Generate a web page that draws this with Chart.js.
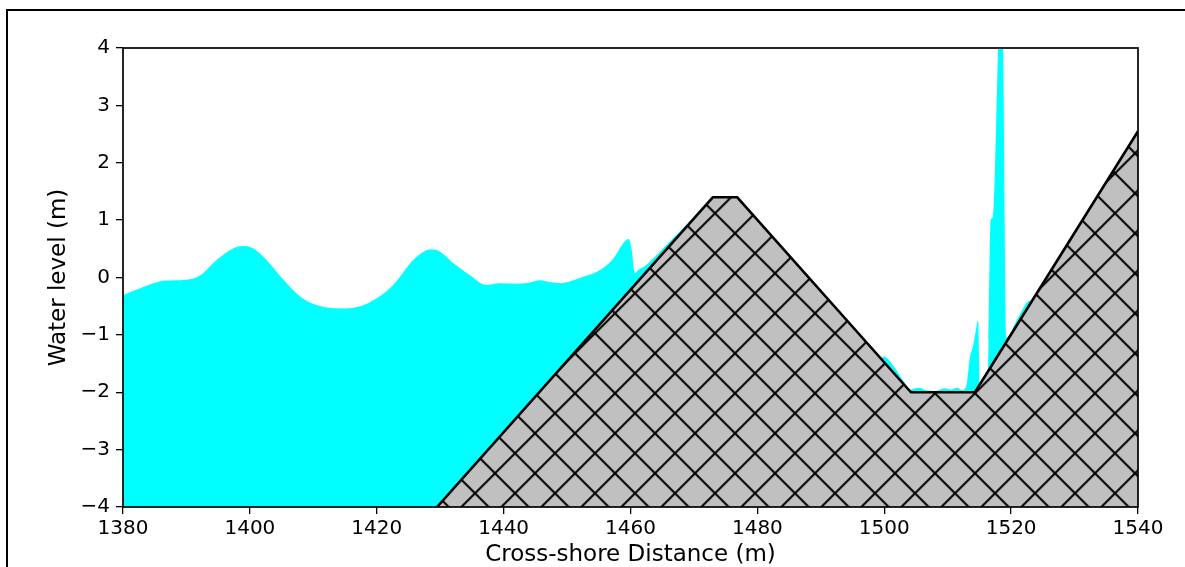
<!DOCTYPE html>
<html>
<head>
<meta charset="utf-8">
<script src="https://cdn.jsdelivr.net/npm/chart.js@4"></script>
<style>
  html, body { margin: 0; padding: 0; background: #fff; overflow: hidden; }
  canvas { display: block; }
</style>
</head>
<body>
<canvas id="waterProfile" width="1185" height="567"></canvas>
<script>
// water surface (m)
const distance = [
  1380, 1382, 1384, 1385.8, 1388, 1390, 1392.1, 1394.8, 1397.4, 1399, 1400.5,
  1402.6, 1405.3, 1407.9, 1410.5, 1414.2, 1417.4, 1420, 1422.6, 1425.8, 1428.4,
  1429.4, 1432.1, 1434.7, 1437.3, 1439.4, 1442, 1444, 1445.7, 1447.2, 1449,
  1451, 1452, 1455.2, 1457.3, 1458.9, 1459.7, 1460.2, 1460.7, 1461.2, 1462.5,
  1465.7, 1469.9, 1471.2, 1474, 1488, 1499, 1500, 1501.5, 1503, 1504, 1505.5,
  1506.5, 1508, 1509.5, 1510.5, 1511.5, 1512.3, 1513, 1513.5, 1514, 1514.4,
  1514.8, 1515.1, 1516.3, 1516.45, 1516.77, 1517.15, 1517.95, 1518.1, 1518.6,
  1518.74, 1519.28, 1521, 1523, 1524, 1540
];
const waterLevel = [
  -0.31, -0.22, -0.13, -0.07, -0.05, -0.04, 0.03, 0.31, 0.51, 0.55, 0.51,
  0.31, -0.04, -0.33, -0.48, -0.54, -0.5, -0.36, -0.13, 0.31, 0.49,
  0.48, 0.25, 0.04, -0.13, -0.1, -0.11, -0.09, -0.05, -0.08, -0.1,
  -0.05, -0.01, 0.13, 0.33, 0.6, 0.67, 0.48, 0.07, 0.13, 0.22,
  0.57, 1.04, 1.18, 0.6, -0.6, -1.45, -1.38, -1.55, -1.8, -1.95, -1.92,
  -1.96, -1.98, -1.93, -1.95, -1.92, -1.96, -1.85, -1.4, -1.2, -0.95,
  -0.75, -1.9, -1.75, -1.1, 1.0, 1.05, 4.0, 4.6, 4.6,
  4.0, -1.05, -0.72, -0.4, -0.5, 2.0
];

// breakwater profile (m)
const bedDistance = [1429.5, 1473, 1476.8, 1504.2, 1514.3, 1540];
const bedLevel = [-4, 1.4, 1.4, -2, -2, 2.55];

const xTicks = { min: 1380, max: 1540, step: 20 };
const yTicks = { min: -4, max: 4, step: 1 };

const tickFont = { family: "'DejaVu Sans', sans-serif", size: 20 };
const titleFont = { family: "'DejaVu Sans', sans-serif", size: 23, lineHeight: 1.0 };

function hatchPattern(ctx) {
  const s = 40;
  const c = document.createElement("canvas");
  c.width = s;
  c.height = s;
  const g = c.getContext("2d");
  g.fillStyle = "#c0c0c0";
  g.fillRect(0, 0, s, s);
  g.strokeStyle = "#000";
  g.lineWidth = 2;
  g.beginPath();
  for (const d of [-s, 0, s]) {
    g.moveTo(d, 0);
    g.lineTo(d + s, s);
    g.moveTo(d + s, 0);
    g.lineTo(d, s);
  }
  g.stroke();
  const p = ctx.createPattern(c, "repeat");
  p.setTransform(new DOMMatrix().translate(15, 33.3));
  return p;
}

const minus = (v) => String(v).replace("-", "\u2212");

// axes box on all four sides, like the matplotlib spines
const spines = {
  id: "spines",
  afterDatasetsDraw(chart) {
    const { ctx, chartArea: a } = chart;
    ctx.save();
    ctx.strokeStyle = "#000";
    ctx.lineWidth = 1.7;
    ctx.strokeRect(a.left, a.top, a.right - a.left, a.bottom - a.top);
    ctx.restore();
  },
};

// outer figure frame (runs off the right and bottom of the picture)
const frame = {
  id: "frame",
  afterDraw(chart) {
    const { ctx } = chart;
    ctx.save();
    ctx.strokeStyle = "#000";
    ctx.lineWidth = 2;
    ctx.strokeRect(7, 10, 1300, 700);
    ctx.restore();
  },
};

const ctx = document.getElementById("waterProfile").getContext("2d");

const config = {
  type: "line",
  data: {
    datasets: [
      {
        label: "bed",
        data: bedDistance.map((x, i) => ({ x, y: bedLevel[i] })),
        borderColor: "#000",
        borderWidth: 2.6,
        borderJoinStyle: "round",
        backgroundColor: hatchPattern(ctx),
        fill: "start",
        pointRadius: 0,
        tension: 0,
      },
      {
        label: "water",
        data: distance.map((x, i) => ({ x, y: waterLevel[i] })),
        borderColor: "rgba(0,0,0,0)",
        borderWidth: 0,
        backgroundColor: "#00ffff",
        fill: "start",
        pointRadius: 0,
        cubicInterpolationMode: "monotone",
      },
    ],
  },
  options: {
    responsive: false,
    animation: false,
    layout: { padding: { left: 0, top: 48, right: 47, bottom: 0 } },
    plugins: {
      legend: { display: false },
      tooltip: { enabled: false },
    },
    scales: {
      x: {
        type: "linear",
        min: xTicks.min,
        max: xTicks.max,
        afterFit: (scale) => {
          scale.height = 60;
        },
        border: { display: false },
        grid: {
          drawOnChartArea: false,
          drawTicks: true,
          tickLength: 7,
          color: "#000",
          lineWidth: 1.3,
        },
        ticks: {
          stepSize: xTicks.step,
          color: "#000",
          font: tickFont,
          padding: 3,
          maxRotation: 0,
          callback: minus,
        },
        title: {
          display: true,
          text: "Cross-shore Distance (m)",
          color: "#000",
          font: titleFont,
          padding: { top: 0, bottom: 0 },
        },
      },
      y: {
        min: yTicks.min,
        max: yTicks.max,
        afterFit: (scale) => {
          scale.width = 123;
        },
        border: { display: false },
        grid: {
          drawOnChartArea: false,
          drawTicks: true,
          tickLength: 7,
          color: "#000",
          lineWidth: 1.3,
        },
        ticks: {
          stepSize: yTicks.step,
          color: "#000",
          font: tickFont,
          padding: 6,
          callback: minus,
        },
        title: {
          display: true,
          text: "Water level (m)",
          color: "#000",
          font: titleFont,
          padding: { top: 48, bottom: 0 },
        },
      },
    },
  },
  plugins: [spines, frame],
};

new Chart(ctx, config);
</script>
</body>
</html>
